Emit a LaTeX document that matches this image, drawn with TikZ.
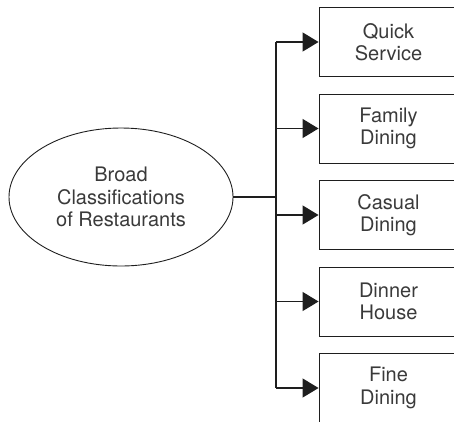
\documentclass[tikz,border=0pt]{standalone}
\usepackage{fontspec}
\setmainfont{TeX Gyre Heros}
\usetikzlibrary{arrows.meta,shapes.geometric}
\definecolor{inkline}{HTML}{1E1E1E}
\definecolor{inktext}{HTML}{3A3A3A}
\newcommand{\labelfont}{\fontsize{20pt}{22.5pt}\selectfont}
\begin{document}
\begin{tikzpicture}[x=1pt,y=-1pt,
  every node/.style={text=inktext, align=center, inner sep=0pt},
  catbox/.style={draw=inkline, line width=0.9pt, minimum width=139pt, minimum height=69pt, font=\labelfont},
  hub/.style={draw=inkline, line width=0.9pt, ellipse, minimum width=224pt, minimum height=138pt, font=\labelfont},
  link/.style={draw=inkline, line width=1.2pt},
  feed/.style={link, -{Triangle[length=16pt,width=19pt]}}]
\useasboundingbox (0,0) rectangle (454,421);
\clip (0,0) rectangle (454,421);
% central ellipse
\node[hub] (root) at (121,197) {Broad\\Classifications\\of Restaurants};
% category boxes
\node[catbox] (q) at (388.5,42)  {Quick\\Service};
\node[catbox] (f) at (388.5,128.5) {Family\\Dining};
\node[catbox] (c) at (388.5,215) {Casual\\Dining};
\node[catbox] (d) at (388.5,301.5) {Dinner\\House};
\node[catbox] (n) at (388.5,388) {Fine\\Dining};
% trunk and branches
\coordinate (jn) at (276,197);
\coordinate (top) at (276,42);
\coordinate (bot) at (276,388);
\draw[link] (root.east) -- (jn);
\draw[link] (top) -- (bot);
\foreach \b in {q,f,c,d,n}
  \draw[feed] (top |- \b.west) -- (\b.west);
\end{tikzpicture}
\end{document}
